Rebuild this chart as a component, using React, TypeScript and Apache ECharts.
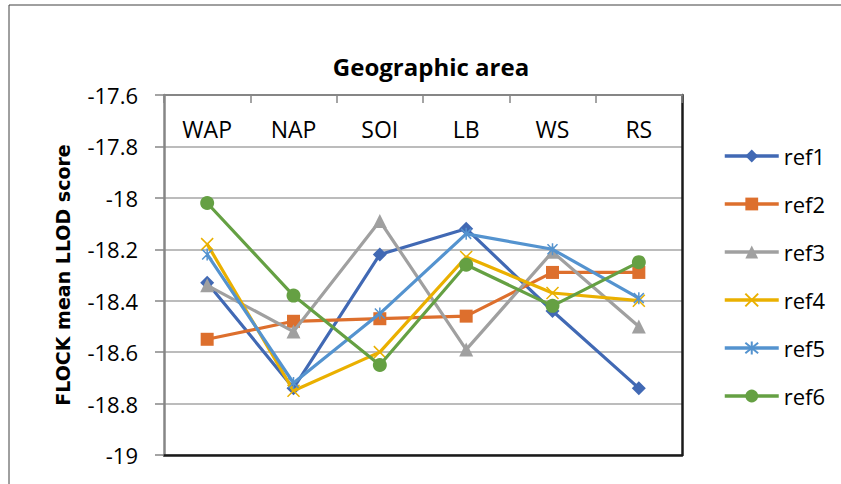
import React, { useEffect, useRef } from "react";
import * as echarts from "echarts";

// Geographic areas along the category axis
const areas = ["WAP", "NAP", "SOI", "LB", "WS", "RS"];

// FLOCK mean LLOD score per reference, one value per area
const ref1 = [-18.33, -18.74, -18.22, -18.12, -18.44, -18.74];
const ref2 = [-18.55, -18.48, -18.47, -18.46, -18.29, -18.29];
const ref3 = [-18.34, -18.52, -18.09, -18.59, -18.21, -18.5];
const ref4 = [-18.18, -18.75, -18.6, -18.23, -18.37, -18.4];
const ref5 = [-18.22, -18.72, -18.45, -18.14, -18.2, -18.39];
const ref6 = [-18.02, -18.38, -18.65, -18.26, -18.42, -18.25];

const seriesNames = ["ref1", "ref2", "ref3", "ref4", "ref5", "ref6"];
const seriesValues = [ref1, ref2, ref3, ref4, ref5, ref6];

const yMin = -19;
const yMax = -17.6;
const yStep = 0.2;

const palette = ["#4169B4", "#DD6F2D", "#A0A0A0", "#EAB000", "#5493CF", "#65A043"];

const crossMark = "path://M0,0L10,10M10,0L0,10";
const starMark = "path://M0,0L10,10M10,0L0,10M5,-1L5,11";

const markers: { symbol: string; size: number; stroked?: boolean }[] = [
  { symbol: "diamond", size: 14 },
  { symbol: "rect", size: 13 },
  { symbol: "triangle", size: 14 },
  { symbol: crossMark, size: 12, stroked: true },
  { symbol: starMark, size: 12, stroked: true },
  { symbol: "circle", size: 14 },
];

const bodyFont = "'Open Sans', sans-serif";

export default function App() {
  const ref = useRef<HTMLDivElement>(null);

  useEffect(() => {
    if (!ref.current) return;
    const chart = echarts.init(ref.current, null, { renderer: "svg" });

    const series = seriesNames.map((name, i) => {
      const m = markers[i];
      return {
        name,
        type: "line",
        data: seriesValues[i],
        xAxisIndex: 0,
        yAxisIndex: 0,
        symbol: m.symbol,
        symbolSize: m.size,
        symbolKeepAspect: true,
        showSymbol: true,
        lineStyle: { width: 3.2, color: palette[i] },
        itemStyle: m.stroked
          ? { color: palette[i], borderColor: palette[i], borderWidth: 1.5 }
          : { color: palette[i], borderWidth: 0 },
        emphasis: { disabled: true },
        z: 3 + i,
      };
    });

    chart.setOption({
      animation: false,
      backgroundColor: "#ffffff",
      color: palette,
      graphic: [
        {
          type: "rect",
          shape: { x: 9, y: 5, width: 860, height: 520 },
          style: { fill: "none", stroke: "#404040", lineWidth: 1 },
          silent: true,
          z: -1,
        },
        {
          type: "text",
          x: 431,
          y: 66,
          style: {
            text: "Geographic area",
            font: `bold 24px ${bodyFont}`,
            fill: "#000000",
            textAlign: "center",
            textVerticalAlign: "middle",
          },
          silent: true,
        },
      ],
      grid: { left: 164, right: 159, top: 95, bottom: 29, containLabel: false },
      legend: {
        orient: "vertical",
        left: 718,
        top: 140,
        itemWidth: 54,
        itemHeight: 16,
        itemGap: 26,
        data: seriesNames,
        lineStyle: { width: 3.5 },
        textStyle: { fontFamily: bodyFont, fontSize: 22, color: "#000000", padding: [0, 0, 0, 0] },
        selectedMode: false,
      },
      xAxis: [
        {
          type: "category",
          data: areas,
          position: "top",
          boundaryGap: true,
          axisLine: { show: true, lineStyle: { color: "#868686", width: 2 } },
          axisTick: { show: true, inside: true, length: 8, lineStyle: { color: "#868686", width: 1.5 } },
          axisLabel: {
            inside: true,
            margin: 22,
            fontFamily: bodyFont,
            fontSize: 23,
            color: "#000000",
          },
          splitLine: { show: false },
        },
        {
          type: "category",
          data: areas,
          position: "bottom",
          axisLine: { show: true, lineStyle: { color: "#1a1a1a", width: 2.5 } },
          axisTick: { show: false },
          axisLabel: { show: false },
          splitLine: { show: false },
        },
      ],
      yAxis: [
        {
          type: "value",
          min: yMin,
          max: yMax,
          interval: yStep,
          position: "left",
          name: "FLOCK mean LLOD score",
          nameLocation: "middle",
          nameGap: 92,
          nameTextStyle: {
            fontFamily: "'DejaVu Sans', sans-serif",
            fontWeight: "bold",
            fontSize: 19,
            color: "#000000",
          },
          axisLine: { show: true, lineStyle: { color: "#868686", width: 2.5 } },
          axisTick: { show: true, inside: false, length: 9, lineStyle: { color: "#868686", width: 1.5 } },
          axisLabel: {
            margin: 26,
            fontFamily: bodyFont,
            fontSize: 22,
            color: "#000000",
            formatter: (v: number) => String(Math.round(v * 10) / 10),
          },
          splitLine: { show: true, lineStyle: { color: "#A6A6A6", width: 1.5 } },
        },
        {
          type: "value",
          min: yMin,
          max: yMax,
          interval: yStep,
          position: "right",
          axisLine: { show: true, lineStyle: { color: "#1a1a1a", width: 2.5 } },
          axisTick: { show: false },
          axisLabel: { show: false },
          splitLine: { show: false },
        },
      ],
      series,
    });

    return () => chart.dispose();
  }, []);

  return (
    <div
      ref={ref}
      style={{ position: "fixed", left: 0, top: 0, width: 841, height: 484 }}
    />
  );
}
